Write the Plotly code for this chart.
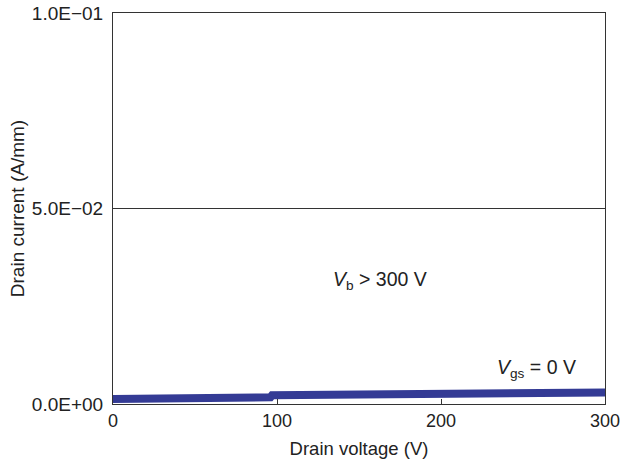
import plotly.graph_objects as go

# Off-state drain current vs drain voltage (Vgs = 0 V)
drain_voltage = [0, 5, 10, 20, 30, 36, 37, 50, 60, 70, 80, 90, 96, 97, 110, 120, 130, 140, 150, 163, 164,
                 180, 190, 200, 210, 220, 230, 243, 244, 260, 270, 280, 290, 300]
drain_current = [0.00125, 0.00128, 0.00128, 0.00129, 0.00130, 0.00131, 0.00165, 0.00166, 0.00167, 0.00168,
                 0.00169, 0.00170, 0.00171, 0.00225, 0.00227, 0.00228, 0.00229, 0.00230, 0.00231, 0.00232,
                 0.00262, 0.00263, 0.00264, 0.00265, 0.00266, 0.00267, 0.00268, 0.00269, 0.00292, 0.00293,
                 0.00294, 0.00295, 0.00296, 0.00297]

x_ticks = [0, 100, 200, 300]
y_ticks = [0, 0.05, 0.1]
y_tick_labels = ["0.0E+00", "5.0E\u221202", "1.0E\u221201"]

font = "Liberation Sans, Arial, sans-serif"
text_color = "#222"
line_color = "#343b95"

fig = go.Figure()
fig.add_trace(go.Scatter(
    x=drain_voltage, y=drain_current, mode="lines",
    line=dict(color=line_color, width=8), showlegend=False,
))

fig.add_annotation(x=163, y=0.0315, text="<i>V</i><sub>b</sub> > 300 V", showarrow=False,
                   font=dict(family=font, size=19.5, color=text_color))
fig.add_annotation(x=258.5, y=0.0092, text="<i>V</i><sub>gs</sub> = 0 V", showarrow=False,
                   font=dict(family=font, size=19.5, color=text_color))

fig.update_layout(
    width=621, height=461,
    margin=dict(l=113, r=16, t=13, b=57),
    paper_bgcolor="white", plot_bgcolor="white",
    font=dict(family=font, size=18, color=text_color),
    xaxis=dict(
        range=[0, 300], tickvals=x_ticks, ticks="inside", ticklen=5, tickcolor="#333",
        showline=True, linecolor="#333", linewidth=1, mirror=True, showgrid=False,
        zeroline=False, automargin=False,
        title=dict(text="Drain voltage (V)", standoff=12,
                   font=dict(family=font, size=18.5, color=text_color)),
        tickfont=dict(family=font, size=18, color=text_color),
    ),
    yaxis=dict(
        range=[0, 0.1], tickvals=y_ticks, ticktext=y_tick_labels, ticks="",
        showline=True, linecolor="#333", linewidth=1, mirror=True,
        showgrid=True, gridcolor="#333", gridwidth=1, zeroline=False, automargin=False,
        ticklabelstandoff=5,
        title=dict(text="Drain current (A/mm)", standoff=2,
                   font=dict(family=font, size=19, color=text_color)),
        tickfont=dict(family=font, size=19, color=text_color),
    ),
)

fig.write_html("out.html")
